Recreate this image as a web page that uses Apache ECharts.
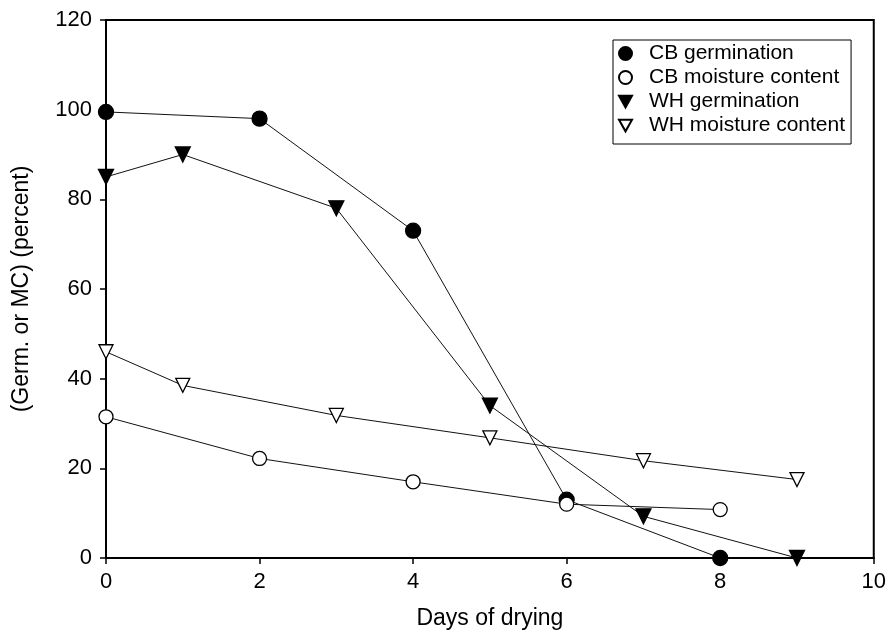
<!DOCTYPE html>
<html><head><meta charset="utf-8">
<script src="https://cdn.jsdelivr.net/npm/echarts@6/dist/echarts.min.js"></script>
<style>html,body{margin:0;padding:0;background:#fff}#c{width:889px;height:635px}</style>
</head><body><div id="c"></div>
<script>
const cbGermX = [0, 2, 4, 6, 8];
const cbGermY = [99.5, 98, 73, 13, 0];
const cbMcX = [0, 2, 4, 6, 8];
const cbMcY = [31.5, 22.2, 17, 12, 10.8];
const whGermX = [0, 1, 3, 5, 7, 9];
const whGermY = [85, 90, 78, 34, 9.3, 0];
const whMcX = [0, 1, 3, 5, 7, 9];
const whMcY = [46, 38.5, 31.8, 26.8, 21.7, 17.5];
const names = ['CB germination', 'CB moisture content', 'WH germination', 'WH moisture content'];

const downTri = 'path://M0,0 L10,0 L5,9 Z';
function pairs(xs, ys){ return xs.map((x,i)=>[x, ys[i]]); }
function ser(name, xs, ys, symbol, filled, size){
  return {
    name, type:'line', data:pairs(xs,ys), symbol, symbolSize:size, showSymbol:true,
    lineStyle:{color:'#111', width:1},
    itemStyle:{color: filled ? '#000' : '#fff', borderColor:'#000', borderWidth:1.3},
    z: 3
  };
}
const FONT = 'Liberation Sans, Arial, sans-serif';
const chart = echarts.init(document.getElementById('c'), null, {renderer:'canvas'});
chart.setOption({
  animation:false,
  backgroundColor:'#fff',
  textStyle:{fontFamily:FONT},
  grid:{left:106, right:15, top:20, bottom:77, show:true, borderColor:'#000', borderWidth:2, backgroundColor:'transparent'},
  legend:{
    orient:'vertical', left:613, top:40,
    backgroundColor:'#fff', borderColor:'#000', borderWidth:1,
    padding:[3,6,8,5], itemGap:3, itemWidth:13, itemHeight:13,
    textStyle:{fontSize:21, color:'#000', padding:[0,0,0,12], fontFamily:FONT},
    data:[
      {name:names[0], icon:'circle'},
      {name:names[1], icon:'circle'},
      {name:names[2], icon:downTri},
      {name:names[3], icon:downTri}
    ]
  },
  xAxis:{
    type:'value', min:0, max:10, interval:2,
    name:'Days of drying', nameLocation:'middle', nameGap:49,
    nameTextStyle:{fontSize:23, color:'#000'},
    axisLine:{lineStyle:{color:'#000', width:2}},
    axisTick:{show:true, length:6, inside:false, lineStyle:{color:'#000', width:1.5}},
    axisLabel:{fontSize:22, color:'#000', margin:13},
    splitLine:{show:false}
  },
  yAxis:{
    type:'value', min:0, max:120, interval:20,
    name:'(Germ. or MC) (percent)', nameLocation:'middle', nameGap:73, nameRotate:90,
    nameTextStyle:{fontSize:23, color:'#000'},
    axisLine:{lineStyle:{color:'#000', width:2}},
    axisTick:{show:true, length:6, inside:false, lineStyle:{color:'#000', width:1.5}},
    axisLabel:{fontSize:22, color:'#000', margin:14},
    splitLine:{show:false}
  },
  series:[
    ser(names[0], cbGermX, cbGermY, 'circle', true, 15),
    ser(names[1], cbMcX, cbMcY, 'circle', false, 14),
    ser(names[2], whGermX, whGermY, downTri, true, 15),
    ser(names[3], whMcX, whMcY, downTri, false, 14)
  ]
});
</script></body></html>
